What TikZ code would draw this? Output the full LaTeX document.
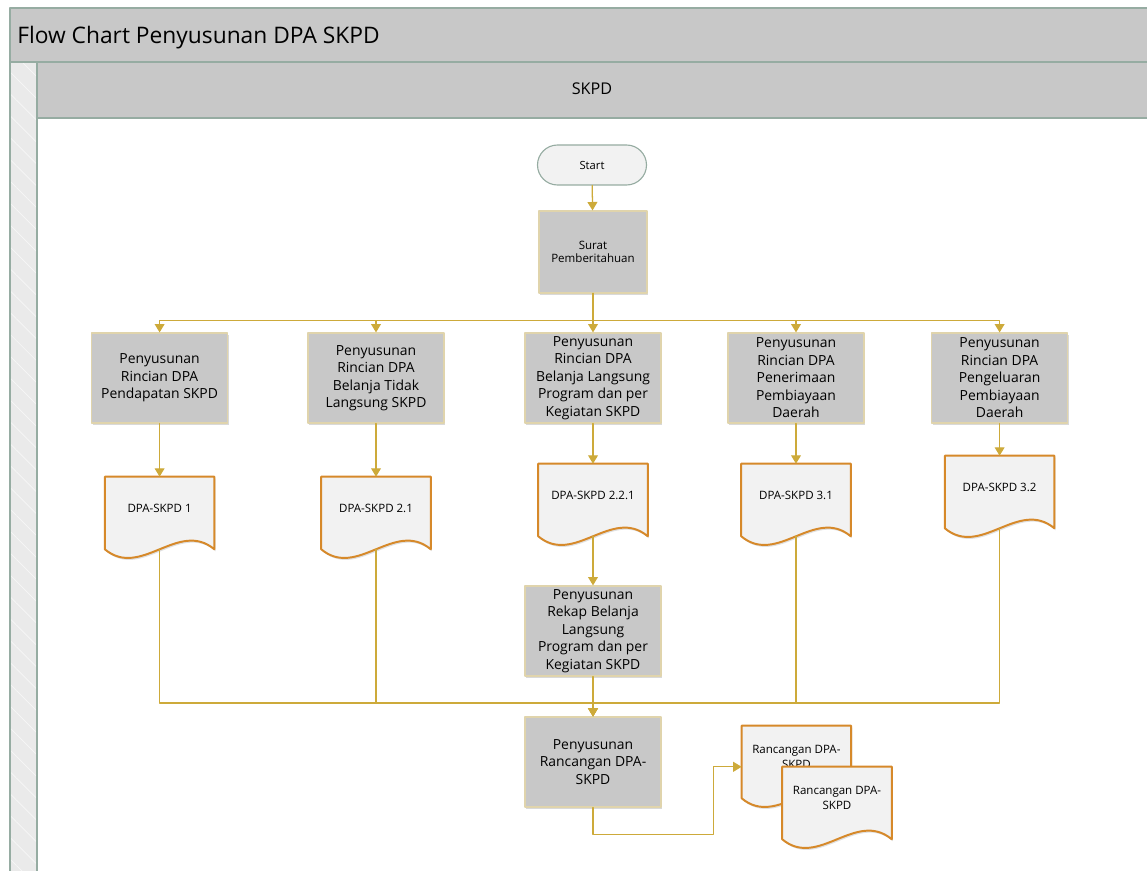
\documentclass[tikz,border=0pt]{standalone}
\usepackage{fontspec}
\setmainfont{Open Sans}
\usetikzlibrary{arrows.meta,shadows,patterns.meta}

\definecolor{flowgold}{RGB}{205,170,58}
\definecolor{docorange}{RGB}{214,137,42}
\definecolor{docfill}{RGB}{242,242,242}
\definecolor{boxgray}{RGB}{200,200,200}
\definecolor{boxedge}{RGB}{224,212,172}
\definecolor{laneedge}{RGB}{150,172,162}
\definecolor{stripgray}{RGB}{234,234,234}

\tikzset{
  flow/.style={draw=flowgold, line width=0.9pt, -{Triangle[length=6pt,width=7pt]}},
  procbox/.style={rectangle, draw=boxedge, line width=0.8pt, fill=boxgray,
    minimum width=3.4cm, minimum height=2.25cm, align=center, inner sep=0pt,
    font=\fontsize{9.9}{12.45}\selectfont,
    drop shadow={shadow xshift=0.03cm, shadow yshift=-0.04cm, opacity=0.25, fill=black!60}},
  startbox/.style={rectangle, rounded corners=0.5cm, draw=laneedge, line width=0.8pt,
    fill=docfill, minimum width=2.725cm, minimum height=1cm, inner sep=0pt,
    font=\fontsize{8}{10}\selectfont},
  docbox/.style={rectangle, minimum width=2.725cm, minimum height=1.8cm, inner sep=0pt},
  docline/.style={draw=docorange, line width=1.4pt, fill=docfill, line join=round,
    drop shadow={shadow xshift=0.03cm, shadow yshift=-0.05cm, opacity=0.2, fill=black!60}},
  doctext/.style={align=center, inner sep=0pt, font=\fontsize{8.2}{10.7}\selectfont}
}

% document symbol: empty node for the anchors, wavy outline, then the text
\newcommand{\docnode}[3]{%
  \node[docbox] (#1) at (#2) {};
  \draw[docline] (#1.north west) -- (#1.north east) -- (#1.south east)
    .. controls +(-0.9,0.75) and +(0.9,-0.75) .. (#1.south west) -- cycle;
  \node[doctext] at ([yshift=0.125cm]#1.center) {#3};
}

\begin{document}
\begin{tikzpicture}[line cap=round,line join=round]
  \useasboundingbox (0,0) rectangle (28.675,-21.775);

  % pool and lane
  \fill[boxgray] (0.25,-0.2) rectangle (28.9,-1.55);
  \fill[boxgray] (0.925,-1.55) rectangle (28.9,-2.95);
  \fill[stripgray] (0.25,-1.55) rectangle (0.925,-22);
  \fill[pattern={Lines[angle=-45,distance=11pt,line width=0.5pt]}, pattern color=white,
    opacity=0.6] (0.25,-1.55) rectangle (0.925,-22);
  \draw[laneedge, line width=0.8pt] (28.9,-0.2) -- (0.25,-0.2) -- (0.25,-22);
  \draw[laneedge, line width=0.8pt] (0.25,-1.55) -- (28.9,-1.55);
  \draw[laneedge, line width=0.8pt] (0.925,-22) -- (0.925,-1.55);
  \draw[laneedge, line width=0.8pt] (0.925,-2.95) -- (28.9,-2.95);
  \node[anchor=base west, inner sep=0pt, font=\fontsize{16.2}{19}\selectfont] (title)
    at (0.425,-1.1) {Flow Chart Penyusunan DPA SKPD};
  \node[inner sep=0pt, font=\fontsize{11.5}{14}\selectfont] (lane) at (14.8,-2.225) {SKPD};

  % steps
  \node[startbox] (start) at (14.8,-4.125) {Start};
  \node[procbox, minimum width=2.7cm, minimum height=2.05cm,
    font=\fontsize{8.2}{9.3}\selectfont] (surat) at (14.825,-6.3) {Surat\\Pemberitahuan};
  \node[procbox] (b1) at (3.99,-9.45) {Penyusunan\\Rincian DPA\\Pendapatan SKPD};
  \node[procbox] (b2) at (9.4,-9.45) {Penyusunan\\Rincian DPA\\Belanja Tidak\\Langsung SKPD};
  \node[procbox] (b3) at (14.825,-9.45) {Penyusunan\\Rincian DPA\\Belanja Langsung\\Program dan per\\Kegiatan SKPD};
  \node[procbox] (b4) at (19.9,-9.45) {Penyusunan\\Rincian DPA\\Penerimaan\\Pembiayaan\\Daerah};
  \node[procbox] (b5) at (24.99,-9.45) {Penyusunan\\Rincian DPA\\Pengeluaran\\Pembiayaan\\Daerah};

  \docnode{d1}{3.99,-12.825}{DPA-SKPD 1}
  \docnode{d2}{9.4,-12.825}{DPA-SKPD 2.1}
  \docnode{d3}{14.825,-12.5}{DPA-SKPD 2.2.1}
  \docnode{d4}{19.9,-12.5}{DPA-SKPD 3.1}
  \docnode{d5}{24.99,-12.3}{DPA-SKPD 3.2}

  \node[procbox] (rekap) at (14.825,-15.775) {Penyusunan\\Rekap Belanja\\Langsung\\Program dan per\\Kegiatan SKPD};
  \node[procbox] (ran) at (14.825,-19.05) {Penyusunan\\Rancangan DPA-\\SKPD};

  \docnode{rA}{19.91,-19.05}{Rancangan DPA-\\SKPD}
  \docnode{rB}{20.925,-20.075}{Rancangan DPA-\\SKPD}

  % connectors
  \draw[flow] (start) -- (surat);
  \foreach \b in {b1,b2,b3,b4,b5}
    \draw[flow] (surat.south) -- ++(0,-0.675) -| (\b.north);
  \foreach \i in {1,...,5}
    \draw[flow] (b\i.south) -- (d\i.north);
  \draw[flow] (d3.south) -- (rekap.north);
  \draw[flow] (rekap.south) -- (ran.north);
  \foreach \d in {d1,d2,d4,d5}
    \draw[flow] (\d.south) -- (\d.south |- 0,-17.575) -| (ran.north);
  \draw[flow] (ran.south) -- ++(0,-0.675) -| ([xshift=-0.7cm,yshift=-0.12cm]rA.west)
    -- ([yshift=-0.12cm]rA.west);
\end{tikzpicture}
\end{document}
